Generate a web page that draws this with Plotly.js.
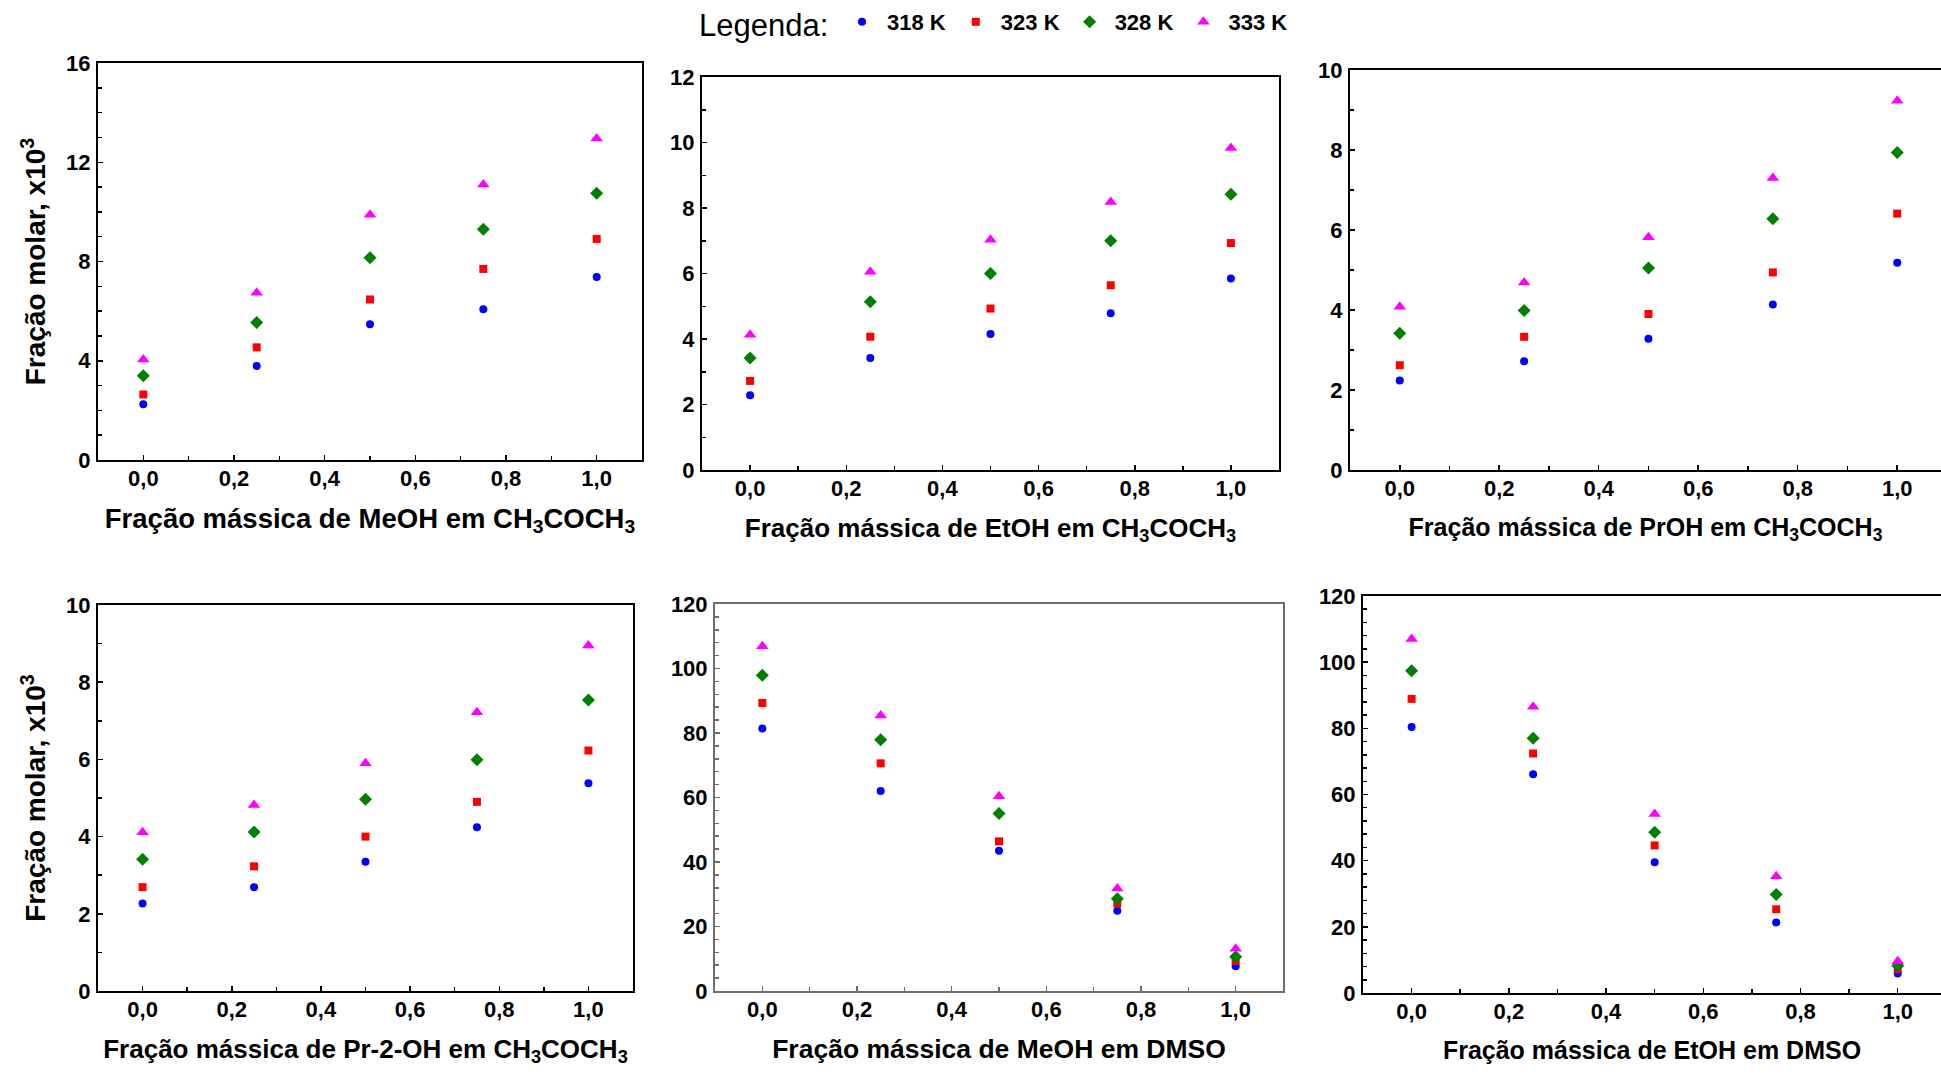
<!DOCTYPE html>
<html>
<head>
<meta charset="utf-8">
<script src="https://cdn.plot.ly/plotly-3.0.1.min.js"></script>
<style>
html,body{margin:0;padding:0;background:#ffffff;}
#chart{width:1941px;height:1076px;}
</style>
</head>
<body>
<div id="chart"></div>
<script>
// ---------------- DATA ----------------
const fractions = [0, 0.25, 0.5, 0.75, 1.0];
const temperatures = ['318 K', '323 K', '328 K', '333 K'];
const legendLabel = 'Legenda:';

// Fração molar x10^3, one array per temperature (318, 323, 328, 333 K)
const meohAcetone = [
  [2.25, 3.79, 5.47, 6.08, 7.38],
  [2.64, 4.54, 6.47, 7.70, 8.91],
  [3.40, 5.54, 8.15, 9.30, 10.75],
  [4.05, 6.74, 9.88, 11.10, 12.96]
];
const etohAcetone = [
  [2.28, 3.42, 4.15, 4.79, 5.85],
  [2.72, 4.07, 4.93, 5.64, 6.93],
  [3.42, 5.14, 6.00, 7.00, 8.42],
  [4.13, 6.05, 7.03, 8.18, 9.83]
];
const prohAcetone = [
  [2.24, 2.72, 3.28, 4.14, 5.18],
  [2.62, 3.33, 3.90, 4.94, 6.41],
  [3.42, 3.99, 5.05, 6.28, 7.94],
  [4.08, 4.69, 5.82, 7.30, 9.23]
];
const pr2ohAcetone = [
  [2.27, 2.69, 3.35, 4.24, 5.38],
  [2.69, 3.23, 4.00, 4.90, 6.23],
  [3.41, 4.12, 4.97, 5.99, 7.54],
  [4.11, 4.82, 5.90, 7.22, 8.95]
];
const meohDmso = [
  [81.4, 62.0, 43.5, 24.9, 7.7],
  [89.3, 70.6, 46.4, 27.1, 9.3],
  [97.9, 77.9, 55.0, 28.6, 10.6],
  [106.9, 85.4, 60.4, 31.8, 13.1]
];
const etohDmso = [
  [80.4, 66.1, 39.5, 21.3, 5.9],
  [88.9, 72.4, 44.6, 25.3, 7.2],
  [97.4, 77.0, 48.6, 29.8, 8.2],
  [107.0, 86.5, 54.1, 35.3, 9.6]
];

const panelData = [meohAcetone, etohAcetone, prohAcetone, pr2ohAcetone, meohDmso, etohDmso];
const xTitles = [
  'Fração mássica de MeOH em CH<sub>3</sub>COCH<sub>3</sub>',
  'Fração mássica de EtOH em CH<sub>3</sub>COCH<sub>3</sub>',
  'Fração mássica de PrOH em CH<sub>3</sub>COCH<sub>3</sub>',
  'Fração mássica de Pr-2-OH em CH<sub>3</sub>COCH<sub>3</sub>',
  'Fração mássica de MeOH em DMSO',
  'Fração mássica de EtOH em DMSO'
];
const yTitle = 'Fração molar, x10<sup>3</sup>';
const xTickVals = [0, 0.2, 0.4, 0.6, 0.8, 1.0];
const xTickText = ['0,0', '0,2', '0,4', '0,6', '0,8', '1,0'];

// ---------------- STYLE ----------------
const W = 1941, H = 1076;
const colors = ['#0000ff', '#ff0000', '#008000', '#ff00ff'];
const symbols = ['circle', 'square', 'diamond', 'triangle-up'];
const sizes = [8, 8, 10, 11];
const FONT = 'Liberation Sans, Arial, sans-serif';

// panel frames in pixels: [left, right, top, bottom]
const frames = [
  [98, 642, 63, 460],
  [702, 1279, 77, 470],
  [1350, 1941, 70, 470],
  [98, 633, 605, 991],
  [715, 1283, 604, 991],
  [1363, 1941, 596, 993]
];
const yRanges = [[0, 16], [0, 12], [0, 10], [0, 10], [0, 120], [0, 120]];
const yDticks = [4, 2, 2, 2, 20, 20];
const yMinor = [1, 1, 1, 1, 4, 4];
const xRanges = [[-0.1, 1.1], [-0.1, 1.1], [-0.1, 1.088], [-0.1, 1.1], [-0.1, 1.1], [-0.1, 1.089]];
const lineColors = ['#000', '#000', '#000', '#000', '#6e6e6e', '#000'];
const showRight = [true, true, false, true, true, false];
const xTitleSizes = [27.5, 26, 25, 26, 26.5, 25];

const traces = [];
const layout = {
  width: W, height: H,
  margin: {l: 0, r: 0, t: 0, b: 0, autoexpand: false},
  paper_bgcolor: '#fff', plot_bgcolor: '#fff',
  font: {family: FONT, color: '#000'},
  showlegend: true,
  legend: {
    orientation: 'h',
    x: 837 / W, xanchor: 'left',
    y: 1 - 22 / H, yanchor: 'middle',
    itemwidth: 40,
    font: {family: FONT, size: 22, weight: 'bold', color: '#000'},
    bgcolor: 'rgba(0,0,0,0)'
  },
  annotations: [{
    text: legendLabel, xref: 'paper', yref: 'paper',
    x: 697 / W, xanchor: 'left', y: 1 - 25 / H, yanchor: 'middle',
    showarrow: false, font: {family: FONT, size: 31, color: '#000'}
  }]
};

panelData.forEach((series, p) => {
  const n = p + 1;
  const xa = 'x' + (n === 1 ? '' : n);
  const ya = 'y' + (n === 1 ? '' : n);
  series.forEach((vals, s) => {
    traces.push({
      type: 'scatter', mode: 'markers',
      x: fractions, y: vals,
      xaxis: xa, yaxis: ya,
      name: temperatures[s],
      legendgroup: temperatures[s],
      showlegend: p === 0,
      marker: {color: colors[s], symbol: symbols[s], size: sizes[s], line: {width: 0}}
    });
  });
  const f = frames[p];
  const common = {
    showgrid: false, zeroline: false,
    showline: true, linecolor: lineColors[p], linewidth: 2,
    ticks: 'inside', ticklen: 5, tickwidth: 1.5, tickcolor: lineColors[p],
    tickfont: {family: FONT, size: 22, weight: 'bold', color: '#000'}
  };
  layout['xaxis' + (n === 1 ? '' : n)] = Object.assign({}, common, {
    anchor: ya,
    domain: [f[0] / W, f[1] / W],
    range: xRanges[p],
    tickvals: xTickVals, ticktext: xTickText,
    minor: {dtick: 0.1, tick0: 0, ticks: 'inside', ticklen: 4, tickwidth: 1.5, tickcolor: lineColors[p]},
    mirror: true,
    ticklabelstandoff: -2,
    title: {text: xTitles[p], standoff: 18, font: {family: FONT, size: xTitleSizes[p], weight: 'bold', color: '#000'}}
  });
  const yax = Object.assign({}, common, {
    anchor: xa,
    domain: [1 - f[3] / H, 1 - f[2] / H],
    range: yRanges[p],
    dtick: yDticks[p], tick0: 0,
    minor: {dtick: yMinor[p], tick0: 0, ticks: 'inside', ticklen: 4, tickwidth: 1.5, tickcolor: lineColors[p]},
    mirror: showRight[p],
    ticklabelstandoff: 1
  });
  if (p === 0 || p === 3) {
    yax.title = {text: yTitle, standoff: 12, font: {family: FONT, size: 28, weight: 'bold', color: '#000'}};
  }
  layout['yaxis' + (n === 1 ? '' : n)] = yax;
});

Plotly.newPlot('chart', traces, layout, {staticPlot: true, displayModeBar: false});
</script>
</body>
</html>
